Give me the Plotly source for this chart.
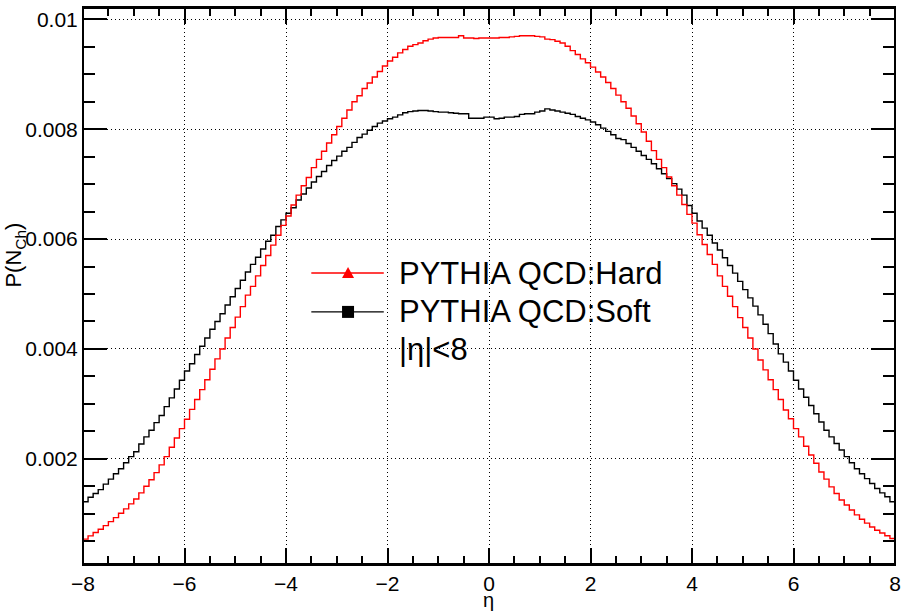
import numpy as np
import plotly.graph_objects as go

# Histogram binning (160 bins of width 0.1 between -8 and 8)
eta_low, eta_high, n_bins = -8.0, 8.0, 160

# P(N_Ch) per eta bin, PYTHIA QCD:Hard (red)
hard_neg = [
    0.000538, 0.000598, 0.000659, 0.000719, 0.000785, 0.000858, 0.00093, 0.00101, 0.00109, 0.00118,
    0.00127, 0.00138, 0.0015, 0.00162, 0.00175, 0.00189, 0.00204, 0.00221, 0.00238, 0.00255,
    0.00272, 0.0029, 0.00308, 0.00326, 0.00344, 0.00363, 0.00382, 0.0040, 0.0042, 0.00439,
    0.00458, 0.00477, 0.00498, 0.00514, 0.00533, 0.00552, 0.0057, 0.00589, 0.00607, 0.00625,
    0.00642, 0.00662, 0.0068, 0.00697, 0.00712, 0.0073, 0.00745, 0.0076, 0.00775, 0.0079,
    0.00805, 0.0082, 0.00835, 0.0085, 0.00861, 0.00874, 0.00884, 0.00895, 0.00905, 0.00915,
    0.00924, 0.00931, 0.00939, 0.00945, 0.00951, 0.00954, 0.00957, 0.00961, 0.00964, 0.00966,
    0.00967, 0.00967, 0.00967, 0.00967, 0.0097, 0.00966, 0.00966, 0.00965, 0.00966, 0.00966,
]
hard_pos = [
    0.00966, 0.00966, 0.00967, 0.00967, 0.00968, 0.00969, 0.0097, 0.0097, 0.0097, 0.00969,
    0.00968, 0.00964, 0.00963, 0.0096, 0.00957, 0.00951, 0.00943, 0.00936, 0.00928, 0.00921,
    0.00913, 0.00904, 0.00895, 0.00885, 0.00874, 0.00862, 0.0085, 0.00838, 0.00824, 0.0081,
    0.00795, 0.00778, 0.00761, 0.00745, 0.0073, 0.00713, 0.00697, 0.0068, 0.00663, 0.00645,
    0.00629, 0.00608, 0.0059, 0.00572, 0.00554, 0.00533, 0.00514, 0.00496, 0.00477, 0.00457,
    0.00439, 0.0042, 0.004, 0.0038, 0.00362, 0.00344, 0.00326, 0.00308, 0.00289, 0.00273,
    0.00255, 0.0024, 0.00223, 0.00207, 0.00192, 0.00176, 0.00163, 0.00149, 0.00137, 0.00125,
    0.00116, 0.00107, 0.00098, 0.0009, 0.00083, 0.00076, 0.0007, 0.00065, 0.0006, 0.00055,
]

# P(N_Ch) per eta bin, PYTHIA QCD:Soft (black)
soft_neg = [
    0.00122, 0.0013, 0.00137, 0.00144, 0.00154, 0.00163, 0.00173, 0.00182, 0.00193, 0.00204,
    0.00213, 0.00227, 0.0024, 0.00252, 0.00266, 0.00279, 0.00295, 0.00311, 0.00327, 0.00343,
    0.0036, 0.00373, 0.0039, 0.00405, 0.0042, 0.00436, 0.0045, 0.00464, 0.0048, 0.00495,
    0.0051, 0.00525, 0.0054, 0.00554, 0.00567, 0.00582, 0.00596, 0.00607, 0.00623, 0.00635,
    0.00647, 0.00657, 0.00671, 0.00682, 0.00693, 0.00704, 0.00714, 0.00723, 0.00734, 0.00743,
    0.00751, 0.0076, 0.00767, 0.00776, 0.00785, 0.00791, 0.00798, 0.00805, 0.00811, 0.00815,
    0.00819, 0.00822, 0.00826, 0.0083, 0.00832, 0.00833, 0.00834, 0.00834, 0.00833, 0.00832,
    0.00831, 0.00831, 0.0083, 0.00829, 0.00828, 0.00828, 0.0082, 0.0082, 0.0082, 0.00822,
]
soft_pos = [
    0.00822, 0.00819, 0.0082, 0.00822, 0.00822, 0.00823, 0.00827, 0.00828, 0.00828, 0.00831,
    0.00833, 0.00837, 0.00835, 0.00833, 0.00831, 0.00829, 0.00827, 0.00823, 0.0082, 0.00817,
    0.00813, 0.00808, 0.00802, 0.00796, 0.0079, 0.00783, 0.00781, 0.00774, 0.00767, 0.0076,
    0.00752, 0.00745, 0.00737, 0.00728, 0.00719, 0.0071, 0.00701, 0.00691, 0.0068, 0.00661,
    0.00647, 0.00633, 0.0062, 0.00607, 0.00593, 0.0058, 0.00566, 0.00552, 0.00538, 0.00523,
    0.00508, 0.00493, 0.00478, 0.00462, 0.00445, 0.00428, 0.00409, 0.00391, 0.00376, 0.0036,
    0.00343, 0.00327, 0.00312, 0.00297, 0.00282, 0.00267, 0.00252, 0.0024, 0.00228, 0.00216,
    0.00204, 0.00193, 0.00182, 0.00173, 0.00164, 0.00155, 0.00146, 0.00138, 0.00131, 0.00122,
]

x_tick_vals = [-8, -6, -4, -2, 0, 2, 4, 6, 8]
y_tick_vals = [0.002, 0.004, 0.006, 0.008, 0.01]
y_tick_text = ["0.002", "0.004", "0.006", "0.008", "0.01"]

legend_labels = ["PYTHIA QCD:Hard", "PYTHIA QCD:Soft"]
legend_note = "|\u03b7|<8"

hard = hard_neg + hard_pos
soft = soft_neg + soft_pos
edges = np.linspace(eta_low, eta_high, n_bins + 1)

FONT = "Liberation Sans, Arial, Helvetica, sans-serif"

fig = go.Figure()
for vals, color in [(soft, "#000000"), (hard, "#ff0000")]:
    y = list(vals) + [vals[-1]]
    fig.add_trace(go.Scatter(
        x=edges, y=y, mode="lines", line=dict(color=color, width=1.4, shape="hv"),
        showlegend=False, hoverinfo="skip",
    ))

# plot-area pixel geometry
W, H = 907, 613
L, R, T, B = 83, 6, 6, 49
pw, ph = W - L - R, H - T - B

def px(xp):
    return (xp - L) / pw

def py(yp):
    return (H - B - yp) / ph

shapes = []
annotations = []
rows = [(272, "#ff0000", "tri"), (311, "#000000", "sq")]
for (yy, col, mk), lab in zip(rows, legend_labels):
    shapes.append(dict(type="line", xref="paper", yref="paper", x0=px(313), x1=px(386),
                       y0=py(yy), y1=py(yy), line=dict(color=col, width=1.4)))
    if mk == "tri":
        shapes.append(dict(type="path", xref="paper", yref="paper", xsizemode="pixel", ysizemode="pixel",
                           xanchor=px(350), yanchor=py(yy), path="M -6,-5 L 6,-5 L 0,6 Z",
                           fillcolor=col, line=dict(color=col, width=0)))
    else:
        shapes.append(dict(type="rect", xref="paper", yref="paper", xsizemode="pixel", ysizemode="pixel",
                           xanchor=px(350), yanchor=py(yy), x0=-6, x1=6, y0=-6, y1=6,
                           fillcolor=col, line=dict(color=col, width=0)))
    annotations.append(dict(text=lab, xref="paper", yref="paper", x=px(399), y=py(yy),
                            xanchor="left", yanchor="middle", showarrow=False,
                            font=dict(family=FONT, size=31, color="black")))
annotations.append(dict(text=legend_note, xref="paper", yref="paper", x=px(399), y=py(349),
                        xanchor="left", yanchor="middle", showarrow=False,
                        font=dict(family=FONT, size=31, color="black")))
# frame (2px, as in the reference)
shapes.append(dict(type="rect", xref="paper", yref="paper", x0=0, x1=1, y0=0, y1=1,
                   line=dict(color="black", width=2), fillcolor="rgba(0,0,0,0)"))
# axis titles
annotations.append(dict(text="\u03b7", xref="paper", yref="paper", x=px(491), y=py(600),
                        xanchor="center", yanchor="middle", showarrow=False,
                        font=dict(family=FONT, size=20, color="black")))
annotations.append(dict(text="P(N<sub>Ch</sub>)", xref="paper", yref="paper", x=px(15), y=py(254),
                        xanchor="center", yanchor="middle", showarrow=False, textangle=-90,
                        font=dict(family=FONT, size=22, color="black")))

fig.update_layout(
    width=W, height=H, margin=dict(l=L, r=R, t=T, b=B),
    paper_bgcolor="white", plot_bgcolor="white",
    shapes=shapes, annotations=annotations,
    xaxis=dict(range=[eta_low, eta_high], tickvals=x_tick_vals, ticklen=16,
               ticks="inside", tickcolor="black", tickwidth=2, showline=True, linecolor="black",
               linewidth=2, mirror="allticks", showgrid=True, gridcolor="black", gridwidth=1,
               griddash="1px,3px", zeroline=False, tickfont=dict(family=FONT, size=21, color="black"),
               minor=dict(dtick=0.5, tick0=0, ticks="inside", ticklen=8, tickcolor="black", tickwidth=2)),
    yaxis=dict(range=[0.000086, 0.010206], tickvals=y_tick_vals, ticktext=y_tick_text, ticklen=24,
               ticks="inside", tickcolor="black", tickwidth=2, showline=True, linecolor="black",
               mirror="allticks", showgrid=True, gridcolor="black", griddash="1px,3px",
               tickfont=dict(family=FONT, size=21, color="black"),
               minor=dict(dtick=0.0005, tick0=0, ticks="inside", ticklen=12, tickcolor="black", tickwidth=2)),
)

fig.write_html("out.html")
